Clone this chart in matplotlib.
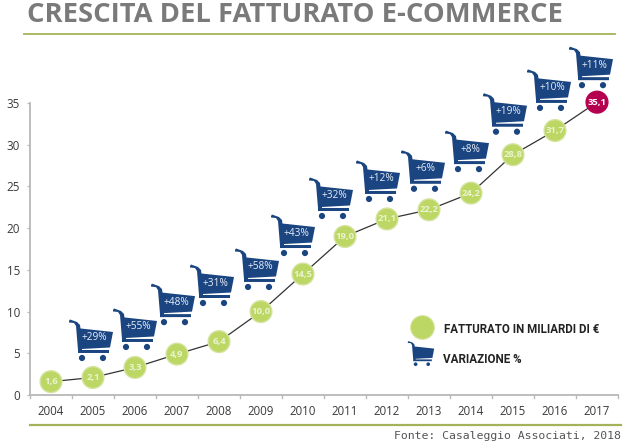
import matplotlib
matplotlib.use("Agg")
import matplotlib.pyplot as plt
from matplotlib.path import Path
from matplotlib.patches import PathPatch
from matplotlib.transforms import Affine2D

years = ['2004','2005','2006','2007','2008','2009','2010','2011','2012','2013','2014','2015','2016','2017']
fatturato = [1.6,2.1,3.3,4.9,6.4,10.0,14.5,19.0,21.1,22.2,24.2,28.8,31.7,35.1]
labels = ['1,6','2,1','3,3','4,9','6,4','10,0','14,5','19,0','21,1','22,2','24,2','28,8','31,7','35,1']
variazione = ['+29%','+55%','+48%','+31%','+58%','+43%','+32%','+12%','+6%','+8%','+19%','+10%','+11%']
yticks = [0,5,10,15,20,25,30,35]

W,H=630,448
NAVY='#1b4580'; GREEN='#bcd763'; EDGE='#d5e3a0'; RED='#b5004f'; OLIVE='#a6b25a'; GRAY='#b8b8b8'; TXT='#3a3a3a'

fig=plt.figure(figsize=(W/100,H/100),dpi=100,facecolor='white')
L,R,T,B=30,618,103,395
ax=fig.add_axes([L/W,1-B/H,(R-L)/W,(B-T)/H])
ax.set_xlim(-0.5,13.5)
ax.set_ylim(0,35)
for s in ('top','right'): ax.spines[s].set_visible(False)
for s in ('left','bottom'):
    ax.spines[s].set_color(GRAY); ax.spines[s].set_linewidth(1.3)
ax.set_yticks(yticks)
ax.set_xticks(range(len(years)),years)
ax.tick_params(axis='y',length=2.2,width=0.9,color=GRAY,labelsize=8.4,labelcolor=TXT,pad=5)
ax.tick_params(axis='x',length=0,labelsize=8.3,labelcolor=TXT,pad=7)
for lb in ax.get_xticklabels()+ax.get_yticklabels(): lb.set_family('Open Sans')
# bottom axis tick marks between categories
for i in range(len(years)+1):
    ax.plot([i-0.5,i-0.5],[0,-0.3],color=GRAY,lw=1,clip_on=False,zorder=2)

x=list(range(len(years)))
ax.plot(x,fatturato,color='#333333',lw=0.9,zorder=2,clip_on=False)
colors=[GREEN]*13+[RED]
edges=[EDGE]*13+[RED]
ax.scatter(x,fatturato,s=245,c=colors,edgecolors=edges,linewidths=1,zorder=3,clip_on=False)
for i,(v,t) in enumerate(zip(fatturato,labels)):
    ax.text(i,v,t,ha='center',va='center',color='white',fontsize=6.8,fontweight='bold',family='Open Sans',zorder=4,
            alpha=1 if i==13 else .7,clip_on=False)

# cart shape, unit: pixels, y down, centred on its bounding box
def cart_path():
    v=[];c=[]
    def poly(p):
        v.extend(p+[p[0]]); c.extend([Path.MOVETO]+[Path.LINETO]*(len(p)-1)+[Path.CLOSEPOLY])
    poly([(-22,-20),(-21,-21.5),(-14,-19),(-11,-16),(-10.5,-12.5),(22,-9),(19,6.5),(-9,8),(-9,9),(18,9),(18,12),(-13,12),(-13,9),(-15,-15),(-17,-18),(-22,-18.5)])
    def wheel(cx,cy,r=3.1):
        k=0.5523*r
        v.extend([(cx+r,cy),(cx+r,cy+k),(cx+k,cy+r),(cx,cy+r),(cx-k,cy+r),(cx-r,cy+k),(cx-r,cy),(cx-r,cy-k),(cx-k,cy-r),(cx,cy-r),(cx+k,cy-r),(cx+r,cy-k),(cx+r,cy),(cx+r,cy)])
        c.extend([Path.MOVETO]+[Path.CURVE4]*12+[Path.CLOSEPOLY])
    wheel(-9,17); wheel(12,17)
    return Path(v,c)
CART=cart_path()

# cart centre offsets from each yearly point, in pixels (right, up)
off=[(-2,36.5),(0,37.5),(-4,49),(-7,55.6),(-4,41.6),(-10,38),(-14,37.5),(-9,37),(-6,38),(-4,41),(-8,40),(-6,39.6),(-6,34)]
def draw_cart(px,py,scale=1.0):
    tr=Affine2D().scale(scale,-scale).translate(px,H-py)
    fig.add_artist(PathPatch(CART,transform=tr,facecolor=NAVY,edgecolor='none',zorder=5))
for i,(t,o) in enumerate(zip(variazione,off)):
    xd=ax.transData.transform((i+1,fatturato[i+1]))
    cx,cy=xd[0]+o[0],(H-xd[1])-o[1]
    draw_cart(cx,cy)
    fig.text((cx+3)/W,1-(cy-3)/H,t,ha='center',va='center',color='#e6eef8',fontsize=7.3,family='Open Sans',zorder=6)

# title and rules
fig.text(27/W,1-15/H,'CRESCITA DEL FATTURATO E-COMMERCE',ha='left',va='center',fontsize=19.7,fontweight='bold',color='#7a7a7a',family='Open Sans')
fig.add_artist(plt.Line2D([24/W,615/W],[1-34/H]*2,color=OLIVE,lw=1.3))
fig.add_artist(plt.Line2D([30/W,621/W],[1-425/H]*2,color=OLIVE,lw=1.6))
fig.text(621/W,1-436/H,'Fonte: Casaleggio Associati, 2018',ha='right',va='center',fontsize=8.25,color='#555555',family='DejaVu Sans Mono')

# legend
ax_leg=fig.add_axes([0,0,1,1],facecolor='none'); ax_leg.axis('off'); ax_leg.set_xlim(0,W); ax_leg.set_ylim(H,0)
ax_leg.scatter([422],[327],s=290,c=GREEN,edgecolors=EDGE,linewidths=.8)
fig.text(444/W,1-329/H,'FATTURATO IN MILIARDI DI €',ha='left',va='center',fontsize=8.3,fontweight='bold',color='#222222',family='Roboto')
fig.text(443/W,1-359/H,'VARIAZIONE %',ha='left',va='center',fontsize=8.4,fontweight='bold',color='#222222',family='Roboto')
draw_cart(421,354,0.6)

fig.savefig('out.png',dpi=100)
